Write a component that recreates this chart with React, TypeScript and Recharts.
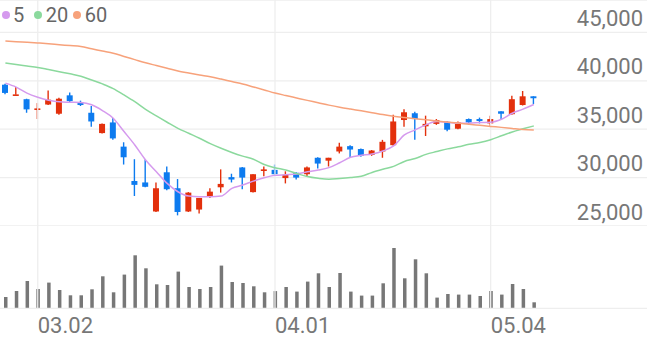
import React from 'react';
import { ComposedChart, Bar, Line, XAxis, YAxis, CartesianGrid, ReferenceLine } from 'recharts';

const dates = [
  '02.26', '02.27', '02.28', '03.02', '03.03', '03.04', '03.05', '03.06', '03.09', '03.10',
  '03.11', '03.12', '03.13', '03.16', '03.17', '03.18', '03.19', '03.20', '03.23', '03.24',
  '03.25', '03.26', '03.27', '03.30', '03.31', '04.01', '04.02', '04.03', '04.06', '04.07',
  '04.08', '04.09', '04.10', '04.13', '04.14', '04.16', '04.17', '04.20', '04.21', '04.22',
  '04.23', '04.24', '04.27', '04.28', '04.29', '05.04', '05.06', '05.07', '05.08', '05.11',
];

const opens = [
  39600, 38550, 38100, 37050, 37550, 36600, 38500, 37800, 36700, 34600,
  35700, 33200, 29650, 29500, 26500, 30550, 28900, 26500, 26700, 28000,
  29000, 30050, 31050, 28500, 30700, 30800, 29950, 30500, 30350, 32050,
  31750, 32700, 33250, 32950, 32350, 32700, 33350, 35950, 36650, 35300,
  35550, 35750, 35050, 36050, 36050, 35600, 36850, 36550, 37500, 38400,
];
const highs = [
  39700, 39350, 38150, 37700, 39000, 38250, 38800, 37950, 37400, 35600,
  36150, 33650, 31900, 31900, 29500, 31150, 29850, 28500, 27900, 28900,
  30850, 30400, 31100, 30350, 31150, 31350, 30650, 30550, 31150, 32100,
  32050, 33600, 33350, 33000, 32850, 33900, 36500, 37050, 36800, 36400,
  36050, 35850, 35800, 36100, 36200, 36400, 36850, 38450, 38950, 38400,
];
const lows = [
  38600, 38550, 36700, 36050, 37500, 36500, 37800, 37400, 35250, 34550,
  33900, 31350, 28100, 29000, 26450, 28700, 26100, 26450, 26300, 27900,
  28450, 29500, 28800, 28450, 30150, 30300, 29400, 29800, 30100, 30950,
  31150, 32500, 32050, 32150, 32250, 32050, 33300, 35250, 33900, 34300,
  35450, 34800, 35000, 35450, 35600, 35250, 36050, 36500, 37450, 37600,
];
const closes = [
  38750, 38600, 37050, 37150, 38050, 38150, 37900, 37500, 35800, 35550,
  34050, 32100, 29250, 29050, 28900, 28800, 26450, 28450, 27900, 28550,
  29350, 29800, 30000, 30350, 30850, 30350, 30300, 30000, 31050, 31450,
  32050, 33200, 32900, 32250, 32800, 33700, 35800, 36750, 36050, 35550,
  35950, 34950, 35700, 35700, 35850, 36050, 36600, 38100, 38400, 38200,
];
// thousand shares
const volumes = [
  226, 346, 546, 386, 514, 366, 260, 260, 380, 640,
  320, 674, 1060, 800, 480, 466, 734, 426, 386, 426,
  854, 526, 506, 440, 320, 344, 426, 334, 534, 700,
  426, 706, 334, 254, 254, 500, 1206, 600, 980, 700,
  214, 286, 274, 274, 246, 346, 274, 486, 386, 120,
];
const ma5 = [
  39760, 39350, 38730, 38310, 38000, 37830, 37790, 37760, 37520, 36930,
  36140, 34760, 33370, 31820, 30610, 29400, 28540, 28090, 28020, 28020,
  28090, 28890, 29230, 29640, 29990, 30230, 30300, 30370, 30610, 30780,
  31030, 31540, 32100, 32300, 32440, 32750, 33270, 34410, 34930, 35450,
  35790, 35720, 35620, 35620, 35690, 35720, 36030, 36650, 37070, 37550,
];
const ma20 = [
  41850, 41680, 41530, 41380, 41160, 40940, 40720, 40480, 40080, 39680,
  39200, 38540, 37840, 37050, 36370, 35720, 35090, 34580, 34070, 33510,
  33030, 32600, 32220, 31890, 31350, 31020, 30790, 30430, 30110, 29930,
  29830, 29910, 30010, 30140, 30530, 30860, 31160, 31670, 31970, 32400,
  32690, 32970, 33190, 33440, 33630, 33920, 34320, 34720, 35040, 35340,
];
const ma60 = [
  44120, 44040, 43980, 43910, 43830, 43730, 43640, 43540, 43310, 43080,
  42850, 42520, 42190, 41860, 41580, 41300, 41010, 40800, 40600, 40420,
  40180, 39920, 39670, 39370, 39060, 38740, 38480, 38230, 37980, 37740,
  37490, 37270, 37080, 36900, 36710, 36510, 36340, 36210, 36090, 35970,
  35850, 35740, 35630, 35510, 35400, 35290, 35190, 35070, 34960, 34920,
];

const priceTicks = [25000, 30000, 35000, 40000, 45000];
const dateTicks = ['03.02', '04.01', '05.04'];
const maSeries = [
  { key: 'ma5', name: '5', color: '#d59aee' },
  { key: 'ma20', name: '20', color: '#8bd99d' },
  { key: 'ma60', name: '60', color: '#f7a27b' },
];

const UP = '#e3300c';
const DOWN = '#0d7bef';
const GRID = '#eeeeee';
const LABEL = '#777777';
const FONT = 'Roboto, "Noto Sans", sans-serif';

const data = dates.map((date, i) => ({
  date,
  open: opens[i],
  high: highs[i],
  low: lows[i],
  close: closes[i],
  volume: volumes[i],
  ma5: ma5[i],
  ma20: ma20[i],
  ma60: ma60[i],
}));

const fmt = (n: number) => String(n).replace(/\B(?=(\d{3})+(?!\d))/g, ',');

const Candle = (props: any) => {
  const { x, y, width, height, payload } = props;
  const { open, close, high, low } = payload;
  const k = high === low ? 0 : height / (high - low);
  const yo = y + (high - open) * k;
  const yc = y + (high - close) * k;
  const color = close >= open ? UP : DOWN;
  const top = Math.min(yo, yc);
  const h = Math.max(1.6, Math.abs(yo - yc));
  const cx = x + width / 2;
  return (
    <g>
      <line x1={cx} x2={cx} y1={y} y2={y + height} stroke={color} strokeWidth={1.4} />
      <rect x={x} y={top} width={width} height={h} fill={color} />
    </g>
  );
};

// labels sit just above their gridline, right aligned to the chart edge
const PriceTick = (props: any) => {
  const { y, payload } = props;
  return (
    <text x={643} y={y - 6.5} textAnchor="end" fill={LABEL} fontSize={22} fontFamily={FONT}>
      {fmt(payload.value)}
    </text>
  );
};

const DateTick = (props: any) => {
  const { x, payload } = props;
  return (
    <text x={x} y={107} textAnchor="start" fill={LABEL} fontSize={22} fontFamily={FONT}>
      {payload.value}
    </text>
  );
};

const RIGHT_PAD = 107.8;

export default function App() {
  return (
    <div style={{ position: 'absolute', left: 0, top: 0, width: 647, height: 337, background: '#fff', fontFamily: FONT }}>
      <ComposedChart width={647} height={226} data={data} margin={{ top: 0, right: 0, bottom: 0, left: 0 }}>
        <CartesianGrid vertical={false} stroke={GRID} strokeWidth={1.3} />
        {dateTicks.map(d => (
          <ReferenceLine key={d} x={d} stroke={GRID} strokeWidth={1.3} />
        ))}
        <XAxis dataKey="date" hide padding={{ left: 0, right: RIGHT_PAD }} />
        <YAxis
          orientation="right"
          mirror
          width={70}
          domain={[25000, 48350]}
          ticks={priceTicks}
          interval={0}
          axisLine={false}
          tickLine={false}
          tick={<PriceTick />}
        />
        {maSeries.map(s => (
          <Line
            key={s.key}
            dataKey={s.key}
            type="monotone"
            stroke={s.color}
            strokeWidth={1.5}
            dot={false}
            isAnimationActive={false}
          />
        ))}
        <Bar
          dataKey={(d: any) => [d.low, d.high]}
          barSize={6}
          shape={<Candle />}
          isAnimationActive={false}
        />
      </ComposedChart>
      <div style={{ position: 'absolute', left: 0, top: 226 }}>
        <ComposedChart width={647} height={111} data={data} margin={{ top: 0, right: 0, bottom: 0, left: 0 }}>
          {dateTicks.map(d => (
            <ReferenceLine key={d} x={d} stroke={GRID} strokeWidth={1.3} />
          ))}
          <XAxis
            dataKey="date"
            height={28.7}
            padding={{ left: 0, right: RIGHT_PAD }}
            ticks={dateTicks}
            interval={0}
            axisLine={{ stroke: GRID, strokeWidth: 1.3 }}
            tickLine={false}
            tick={<DateTick />}
          />
          <YAxis hide domain={[0, 1646]} />
          <Bar dataKey="volume" fill="#777777" barSize={3.5} isAnimationActive={false} />
        </ComposedChart>
      </div>
      <div style={{ position: 'absolute', left: 0, top: 0, height: 30, width: 120 }}>
        {maSeries.map((s, i) => (
          <div
            key={s.key}
            style={{ position: 'absolute', left: [1.5, 34.3, 73.3][i], top: 5, display: 'flex', alignItems: 'center', height: 20 }}
          >
            <span style={{ width: 8, height: 8, borderRadius: 4, background: s.color, marginRight: 3.5, display: 'inline-block' }} />
            <span style={{ fontSize: 20, color: '#666', lineHeight: '20px' }}>{s.name}</span>
          </div>
        ))}
      </div>
    </div>
  );
}
